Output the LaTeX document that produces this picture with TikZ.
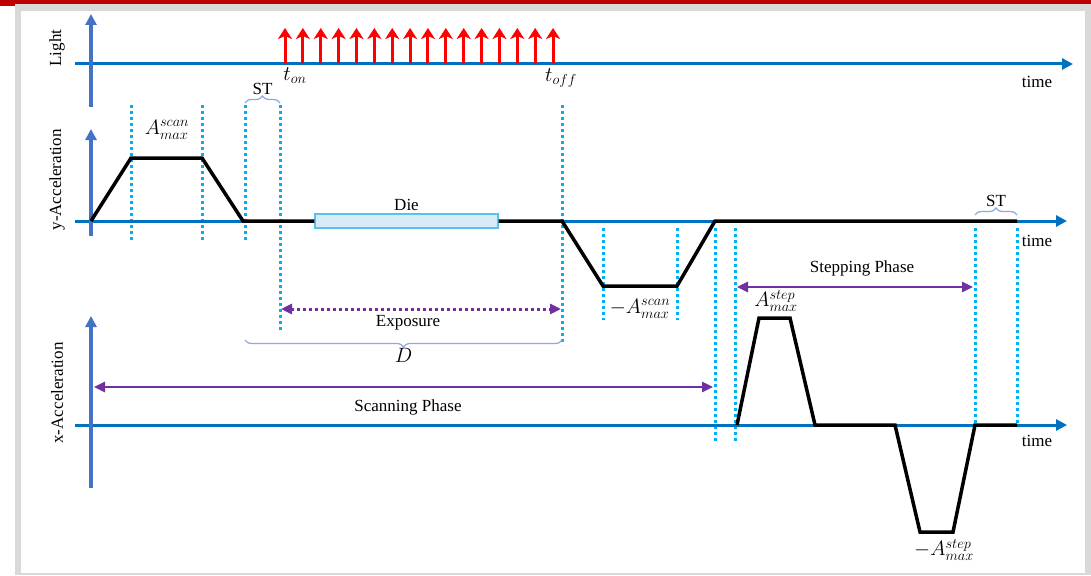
\documentclass[tikz,border=0pt]{standalone}
\usepackage{fontspec}
\setmainfont{Liberation Serif}
\usetikzlibrary{arrows.meta,decorations.pathreplacing}
\definecolor{axisblue}{RGB}{0,112,192}
\definecolor{vaxisc}{RGB}{68,114,196}
\definecolor{dotc}{RGB}{0,176,240}
\definecolor{purp}{RGB}{112,48,160}
\definecolor{bracec}{RGB}{143,170,220}
\definecolor{diefill}{RGB}{214,234,248}
\definecolor{diedraw}{RGB}{91,192,235}
\definecolor{framegray}{RGB}{217,217,217}
\definecolor{bandred}{RGB}{192,0,0}
\tikzset{
 haxis/.style={draw=axisblue, line width=3pt, -{Triangle[length=11pt,width=11pt]}},
 vaxis/.style={draw=vaxisc, line width=3.5pt, -{Triangle[length=11pt,width=11pt]}},
 trace/.style={draw=black, line width=3.5pt, line join=miter},
 dotline/.style={draw=dotc, line width=3pt, dash pattern=on 3pt off 3pt},
 phase/.style={draw=purp, line width=2.5pt, {Triangle[length=11pt,width=10pt]}-{Triangle[length=11pt,width=10pt]}},
 expo/.style={draw=purp, line width=3pt, dash pattern=on 3pt off 3pt, {Triangle[length=11pt,width=10pt]}-{Triangle[length=11pt,width=10pt]}},
 lbl/.style={font=\fontsize{17}{20}\selectfont, inner sep=1pt},
 mlbl/.style={font=\fontsize{21}{24}\selectfont, inner sep=1pt},
 brc/.style={draw=bracec, line width=1.2pt, decorate, decoration={brace, amplitude=7pt}},
 lightarrow/.style={draw=red, line width=3pt, -{Stealth[length=11pt,width=14pt,inset=3pt]}},
 diebox/.style={draw=diedraw, fill=diefill, line width=1.2pt, minimum height=14pt, inner sep=0pt},
}
\begin{document}
\begin{tikzpicture}[x=1pt,y=-1pt]
\useasboundingbox (0,0) rectangle (1091,575);
% frame
\fill[framegray] (15,4) rectangle (1091,575);
\fill[white] (21,11) rectangle (1085,573);
\fill[bandred] (0,0) rectangle (1091,4);
\fill[bandred] (0,0) rectangle (15,6);

% ---------- Light ----------
\draw[haxis] (75,64) -- (1073,64);
\draw[vaxis] (91,107) -- (91,14);
\node[lbl, rotate=90] (lightlbl) at (57,48) {Light};
\node[lbl] (time1) at (1037,82) {time};
\foreach \i in {0,...,15}{
  \draw[lightarrow] ({285+\i*17.87},64) -- ({285+\i*17.87},28);
}
\node[mlbl] (ton) at (295,76) {$t_{on}$};
\node[mlbl] (toff) at (561,78) {$t_{off}$};

% ---------- dotted markers ----------
\draw[dotline] (131,105) -- (131,240);
\draw[dotline] (202,105) -- (202,240);
\draw[dotline] (245,105) -- (245,240);
\draw[dotline] (280,105) -- (280,332);
\draw[dotline] (562,105) -- (562,345);
\draw[dotline] (603,228) -- (603,320);
\draw[dotline] (677,228) -- (677,320);
\draw[dotline] (715,228) -- (715,443);
\draw[dotline] (735,228) -- (735,443);
\draw[dotline] (975,228) -- (975,425);
\draw[dotline] (1017,228) -- (1017,425);

% ---------- y-Acceleration ----------
\draw[haxis] (75,221) -- (1067,221);
\draw[vaxis] (91,236) -- (91,129);
\node[lbl, rotate=90] (ylbl) at (57,180) {y-Acceleration};
\node[lbl] (time2) at (1037,241) {time};
\node[diebox, minimum width=183pt] (die) at (406.5,221) {};
\node[lbl, anchor=south, yshift=2pt] (dielbl) at (die.north) {Die};
\coordinate (y0) at (91,221);
\coordinate (y1) at (131,158);
\coordinate (y2) at (202,158);
\coordinate (y3) at (243,221);
\coordinate (y4) at (562,221);
\coordinate (y5) at (603,286);
\coordinate (y6) at (677,286);
\coordinate (y7) at (715,221);
\coordinate (y8) at (1017,221);
\draw[trace] (y0) -- (y1) -- (y2) -- (y3) -- (die.west);
\draw[trace] (die.east) -- (y4) -- (y5) -- (y6) -- (y7) -- (y8);
\node[mlbl] (ascan) at (167,130) {$A^{scan}_{max}$};
\node[mlbl] (mascan) at (640,309) {$-A^{scan}_{max}$};

% ST braces
\coordinate (st1a) at (245,103);
\coordinate (st1b) at (280,103);
\draw[brc] (st1a) -- (st1b) node[midway, above=7pt, lbl] (st1) {ST};
\coordinate (st2a) at (975,215);
\coordinate (st2b) at (1017,215);
\draw[brc] (st2a) -- (st2b) node[midway, above=7pt, lbl] (st2) {ST};

% Exposure
\coordinate (ex1) at (281,309);
\coordinate (ex2) at (561,309);
\draw[expo] (ex1) -- (ex2);
\node[lbl] (expolbl) at (408,323) {Exposure};
% D brace
\coordinate (da) at (245,340);
\coordinate (db) at (562,340);
\draw[brc, decoration={brace, mirror, amplitude=7pt}] (da) -- (db) node[midway, below=7pt, mlbl] (dlbl) {$D$};

% Stepping phase
\coordinate (sp1) at (737,287);
\coordinate (sp2) at (973,287);
\draw[phase] (sp1) -- (sp2);
\node[lbl] (splbl) at (862,268) {Stepping Phase};

% ---------- x-Acceleration ----------
\draw[haxis] (75,425) -- (1067,425);
\draw[vaxis] (91,488) -- (91,316);
\node[lbl, rotate=90] (xlbl) at (57,393) {x-Acceleration};
\node[lbl] (time3) at (1037,441) {time};
\coordinate (sc1) at (94,387);
\coordinate (sc2) at (713,387);
\draw[phase] (sc1) -- (sc2);
\node[lbl] (sclbl) at (408,407) {Scanning Phase};
\coordinate (x0) at (737,425);
\coordinate (x1) at (759,318);
\coordinate (x2) at (790,318);
\coordinate (x3) at (815,425);
\coordinate (x4) at (895,425);
\coordinate (x5) at (920,532);
\coordinate (x6) at (953,532);
\coordinate (x7) at (975,425);
\coordinate (x8) at (1017,425);
\draw[trace] (x0) -- (x1) -- (x2) -- (x3) -- (x4) -- (x5) -- (x6) -- (x7) -- (x8);
\node[mlbl] (astep) at (776,301) {$A^{step}_{max}$};
\node[mlbl] (mastep) at (944,550) {$-A^{step}_{max}$};
\end{tikzpicture}
\end{document}
